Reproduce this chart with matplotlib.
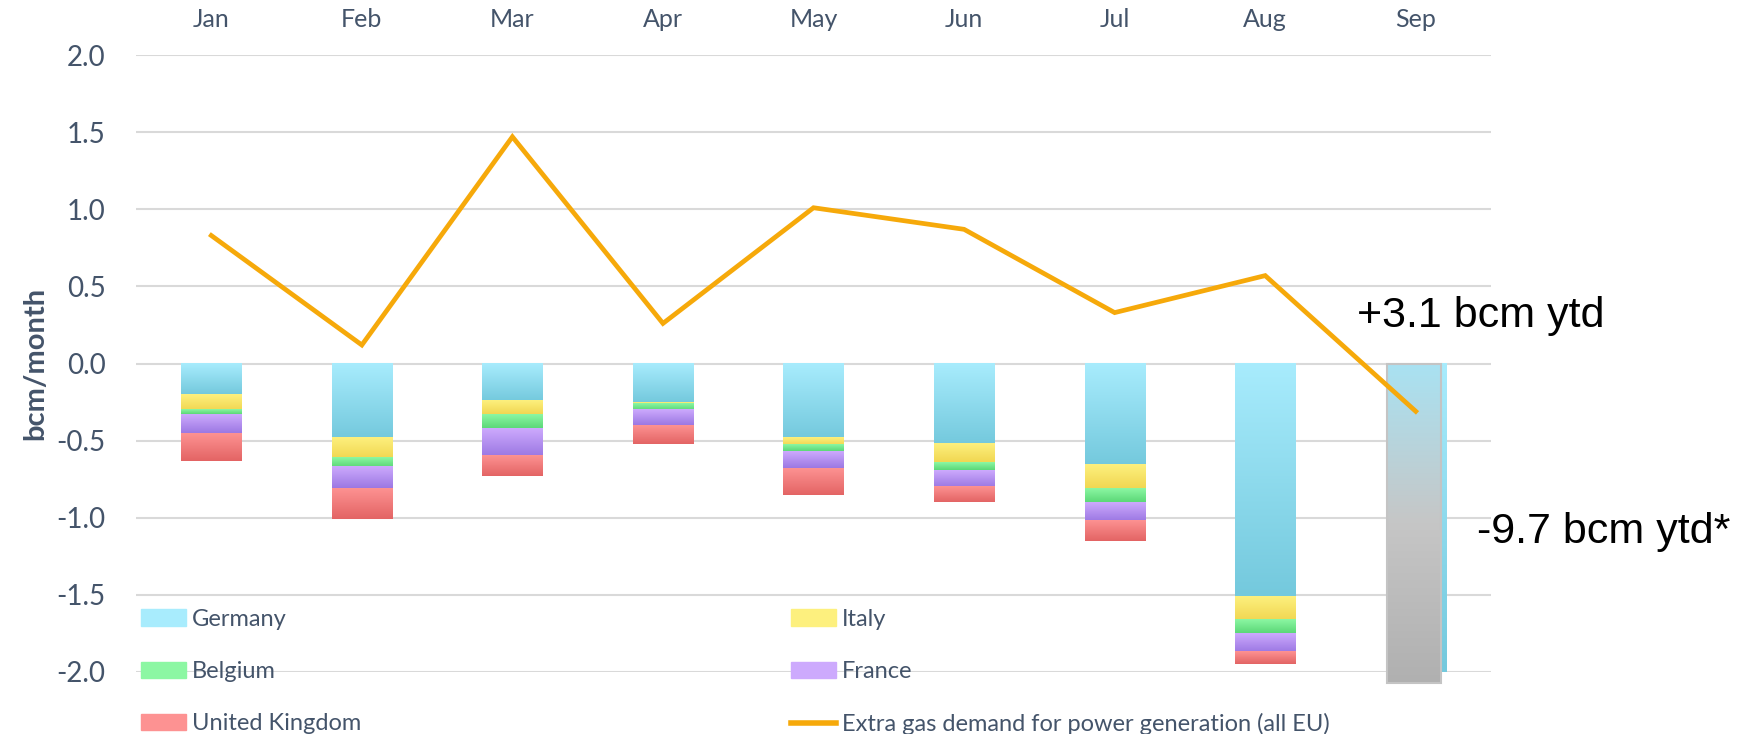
import numpy as np
import matplotlib
matplotlib.use('Agg')
import matplotlib.pyplot as plt
from matplotlib.colors import LinearSegmentedColormap
from matplotlib.patches import Patch, Rectangle
from matplotlib.lines import Line2D

# Data (bcm/month)
months = ['Jan', 'Feb', 'Mar', 'Apr', 'May', 'Jun', 'Jul', 'Aug', 'Sep']
germany = [-0.20, -0.48, -0.24, -0.25, -0.48, -0.52, -0.66, -1.51, -2.00]
italy = [-0.10, -0.13, -0.09, -0.01, -0.05, -0.12, -0.15, -0.15, 0.0]
belgium = [-0.03, -0.06, -0.09, -0.04, -0.04, -0.05, -0.09, -0.09, 0.0]
france = [-0.12, -0.14, -0.18, -0.10, -0.11, -0.11, -0.12, -0.12, 0.0]
uk = [-0.18, -0.20, -0.13, -0.12, -0.17, -0.10, -0.13, -0.08, 0.0]
extra_power = [0.83, 0.12, 1.47, 0.26, 1.01, 0.87, 0.33, 0.57, -0.31]
yticks = [2.0, 1.5, 1.0, 0.5, 0.0, -0.5, -1.0, -1.5, -2.0]
ytd_gas_label = '+3.1 bcm ytd'
ytd_cut_label = '-9.7 bcm ytd*'

text_col = '#44546a'
plt.rcParams['font.family'] = ['Lato', 'DejaVu Sans']

fig = plt.figure(figsize=(17.37, 7.34), dpi=100)
ax = fig.add_axes([0.0783, 0.0845, 0.7801, 0.8405])

series = [
    ('Germany', germany, '#a8ecfd', '#74c9dd'),
    ('Italy', italy, '#fdf07e', '#f1d752'),
    ('Belgium', belgium, '#8cf7a3', '#5cd878'),
    ('France', france, '#cdaafd', '#9c78e3'),
    ('United Kingdom', uk, '#fd9292', '#e36464'),
]

x = np.arange(len(months))
grad = np.linspace(0, 1, 128).reshape(-1, 1)
bottom = np.zeros(len(months))
bar_sets = []
for name, vals, top_c, bot_c in series:
    vals = np.array(vals)
    bars = ax.bar(x, vals, 0.4, bottom=bottom, color='none', zorder=2)
    cmap = LinearSegmentedColormap.from_list(name, [top_c, bot_c])
    for r in bars:
        h = r.get_height()
        if h == 0:
            continue
        y0, y1 = r.get_y(), r.get_y() + h
        ax.imshow(grad, cmap=cmap, aspect='auto', zorder=2,
                  extent=(r.get_x(), r.get_x() + r.get_width(), min(y0, y1), max(y0, y1)))
    bar_sets.append(bars)
    bottom = bottom + vals

# grey ytd box over the Sep bar
sep_bar = bar_sets[0][-1]
bx = sep_bar.get_x() + 0.01
bw = sep_bar.get_width() * 0.9
box_bottom = sep_bar.get_y() + sep_bar.get_height() - 0.07
box_cmap = LinearSegmentedColormap.from_list('box', ['#a9e2f2', '#c6c6c6', '#b0b0b0'])
ax.imshow(grad, cmap=box_cmap, aspect='auto', zorder=3, clip_on=False,
          extent=(bx, bx + bw, box_bottom, 0))
ax.add_patch(Rectangle((bx, box_bottom), bw, -box_bottom, fill=False,
                       edgecolor='#c4c4c4', lw=1.5, zorder=3, clip_on=False))

ax.plot(x, extra_power, color='#f6a90a', lw=3.4, zorder=4, solid_joinstyle='miter')

ax.set_xlim(-0.5, len(months) - 0.5)
ax.set_ylim(-2.0, 2.0)
ax.set_yticks(yticks)
ax.set_yticklabels([f'{v:.1f}' for v in yticks])
ax.yaxis.grid(True, color='#d9d9d9', lw=1.5, zorder=0)
ax.set_axisbelow(True)
for s in ax.spines.values():
    s.set_visible(False)
ax.xaxis.tick_top()
ax.set_xticks(x)
ax.set_xticklabels(months)
ax.tick_params(axis='x', length=0, pad=17, labelsize=18, colors=text_col)
ax.tick_params(axis='y', length=0, pad=22, labelsize=20, colors=text_col)
ax.set_ylabel('bcm/month', fontsize=21, fontweight='bold', color=text_col, labelpad=6)

ax.text(7.61, 0.307, ytd_gas_label, fontsize=31, family='Liberation Sans',
        va='center', ha='left', color='black', clip_on=False, zorder=5)
ax.text(8.41, -1.09, ytd_cut_label, fontsize=31, family='Liberation Sans',
        va='center', ha='left', color='black', clip_on=False, zorder=5)

# legend in two columns, drawn as two blocks
h_left = [Patch(color=series[i][2]) for i in (0, 2, 4)]
l_left = [series[i][0] for i in (0, 2, 4)]
h_right = [Patch(color=series[1][2]), Patch(color=series[3][2]),
           Line2D([0], [0], color='#f6a90a', lw=4)]
l_right = ['Italy', 'France', 'Extra gas demand for power generation (all EU)']
kw = dict(frameon=False, fontsize=17, labelcolor=text_col, loc='upper left',
          borderpad=0, borderaxespad=0, handlelength=1.9, handletextpad=0.25,
          labelspacing=1.32)
fig.legend(h_left, l_left, bbox_to_anchor=(141 / 1737, 1 - 609 / 734), **kw)
fig.legend(h_right, l_right, bbox_to_anchor=(791 / 1737, 1 - 609 / 734), **kw)

fig.savefig('out.png', dpi=100)
